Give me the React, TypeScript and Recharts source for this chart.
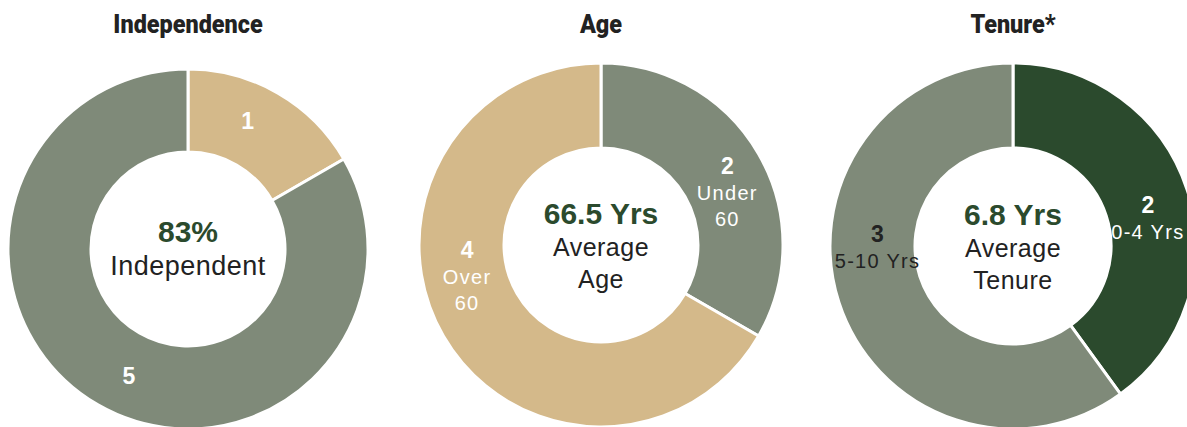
import { PieChart, Pie, Cell, Label } from "recharts";

const GRAY = "#7f8a79";
const TAN = "#d4b98a";
const DARK = "#2b4a2d";

const independenceNames = ["Independent", "Not Independent"];
const independenceValues = [1, 5];
const ageNames = ["Under 60", "Over 60"];
const ageValues = [2, 4];
const tenureNames = ["0-4 Yrs", "5-10 Yrs"];
const tenureValues = [2, 3];

const titles = ["Independence", "Age", "Tenure*"];

const build = (names: string[], values: number[]) =>
  names.map((name, i) => ({ name, value: values[i] }));

type ChartCfg = {
  title: string;
  data: { name: string; value: number }[];
  colors: string[];
  sub: string[][];
  labelColors: string[];
  center: { big: string; lines: string[]; bigY: number; lineSize: number };
  cx: number;
  cy: number;
  inner: number;
  outer: number;
  // label placement: angle nudge (deg) and radius per slice
  nudge: number[];
  radius: number[];
};

const charts: ChartCfg[] = [
  {
    title: titles[0],
    data: build(independenceNames, independenceValues),
    colors: [TAN, GRAY],
    sub: [[], []],
    labelColors: ["#fff", "#fff"],
    center: { big: "83%", lines: ["Independent"], bigY: -7, lineSize: 27 },
    cx: 188,
    cy: 249,
    inner: 97,
    outer: 180,
    nudge: [5, 5],
    radius: [141, 140],
  },
  {
    title: titles[1],
    data: build(ageNames, ageValues),
    colors: [GRAY, TAN],
    sub: [["Under", "60"], ["Over", "60"]],
    labelColors: ["#fff", "#fff"],
    center: { big: "66.5 Yrs", lines: ["Average", "Age"], bigY: -21, lineSize: 25 },
    cx: 601,
    cy: 245,
    inner: 97,
    outer: 182,
    nudge: [2, -28],
    radius: [149, 134],
  },
  {
    title: titles[2],
    data: build(tenureNames, tenureValues),
    colors: [DARK, GRAY],
    sub: [["0-4 Yrs"], ["5-10 Yrs"]],
    labelColors: ["#fff", "#222"],
    center: { big: "6.8 Yrs", lines: ["Average", "Tenure"], bigY: -21, lineSize: 25 },
    cx: 1013,
    cy: 246,
    inner: 98,
    outer: 183,
    nudge: [-1, -23],
    radius: [141, 136],
  },
];

const FONT = "'Liberation Sans', Arial, Helvetica, sans-serif";
const TITLE_FONT = "Roboto, 'Liberation Sans', sans-serif";
const RAD = Math.PI / 180;

const makeLabel = (cfg: ChartCfg) => (props: any) => {
  const { cx, cy, midAngle, index, value } = props;
  const a = (midAngle + cfg.nudge[index]) * RAD;
  const r = cfg.radius[index];
  const x = cx + r * Math.cos(-a);
  const y = cy + r * Math.sin(-a);
  const color = cfg.labelColors[index];
  return (
    <g key={`lbl-${index}`}>
      <text
        x={x}
        y={y + 8}
        textAnchor="middle"
        fill={color}
        fontFamily={FONT}
        fontWeight={700}
        fontSize={23}
      >
        {value}
      </text>
      {cfg.sub[index].map((s, j) => (
        <text
          key={j}
          x={x}
          y={y + 8 + 26 * (j + 1)}
          textAnchor="middle"
          fill={color}
          fontFamily={FONT}
          fontSize={20}
          letterSpacing={1.3}
        >
          {s}
        </text>
      ))}
    </g>
  );
};

const makeCenter = (cfg: ChartCfg) => () => {
  const cx = cfg.cx;
  const cy = cfg.cy;
  return (
    <g>
      <text
        transform={`translate(${cx},33) scale(0.9,1)`}
        textAnchor="middle"
        fill="#222"
        fontFamily={TITLE_FONT}
        fontWeight={900}
        fontSize={26}
      >
        {cfg.title}
      </text>
      <text
        x={cx}
        y={cy + cfg.center.bigY}
        textAnchor="middle"
        fill={DARK}
        fontFamily={FONT}
        fontWeight={700}
        fontSize={30}
      >
        {cfg.center.big}
      </text>
      {cfg.center.lines.map((l, j) => (
        <text
          key={j}
          x={cx}
          y={cy + cfg.center.bigY + 32 * (j + 1) + (cfg.center.lineSize > 25 ? 1 : 0)}
          textAnchor="middle"
          fill="#222"
          fontFamily={FONT}
          fontSize={cfg.center.lineSize}
          letterSpacing={0.5}
        >
          {l}
        </text>
      ))}
    </g>
  );
};

export default function App() {
  return (
    <div style={{ position: "absolute", left: 0, top: 0, background: "#fff" }}>
      <PieChart
        width={1187}
        height={427}
        margin={{ top: 0, right: 0, bottom: 0, left: 0 }}
      >
        {charts.map((cfg, k) => (
          <Pie
            key={k}
            data={cfg.data}
            dataKey="value"
            nameKey="name"
            cx={cfg.cx}
            cy={cfg.cy}
            innerRadius={cfg.inner}
            outerRadius={cfg.outer}
            startAngle={90}
            endAngle={-270}
            stroke="#fff"
            strokeWidth={3}
            label={makeLabel(cfg)}
            labelLine={false}
            isAnimationActive={false}
          >
            {cfg.data.map((d, i) => (
              <Cell key={d.name} fill={cfg.colors[i]} />
            ))}
            <Label position="center" content={makeCenter(cfg)} />
          </Pie>
        ))}
      </PieChart>
    </div>
  );
}
